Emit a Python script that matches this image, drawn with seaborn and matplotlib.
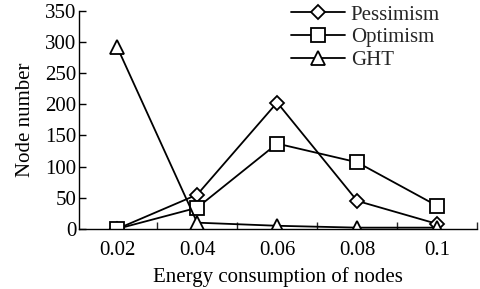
import numpy as np
import pandas as pd
import matplotlib
matplotlib.use('Agg')
import matplotlib.pyplot as plt
import seaborn as sns
from matplotlib.ticker import MultipleLocator

# 数据
energy = [0.02, 0.04, 0.06, 0.08, 0.1]
pessimism = [0, 55, 203, 45, 8]
optimism = [0, 34, 137, 107, 37]
ght = [292, 10, 5, 2, 2]

series_names = ['Pessimism', 'Optimism', 'GHT']
series_values = [pessimism, optimism, ght]
markers = ['D', 's', '^']
marker_sizes = [7.5, 10, 10]

sns.set_theme(style='ticks')
plt.rcParams['font.family'] = ['Liberation Serif', 'DejaVu Serif']
plt.rcParams['font.size'] = 15

fig, ax = plt.subplots(figsize=(4.8, 2.89), dpi=100)
fig.subplots_adjust(left=0.165, right=0.994, top=0.962, bottom=0.208)

for name, vals, m, ms in zip(series_names, series_values, markers, marker_sizes):
    df = pd.DataFrame({'x': energy, 'y': vals})
    sns.lineplot(data=df, x='x', y='y', ax=ax, color='black', linewidth=1.3,
                 marker=m, markersize=ms, markerfacecolor='white',
                 markeredgecolor='black', markeredgewidth=1.3, label=name)

ax.set_xlim(0.0105, 0.11)
ax.set_ylim(0, 350)
ax.set_xticks(energy)
ax.set_xticklabels(['0.02', '0.04', '0.06', '0.08', '0.1'])
ax.xaxis.set_minor_locator(MultipleLocator(0.01))
ax.set_yticks(np.arange(0, 351, 50))
ax.tick_params(axis='both', direction='in', length=5, width=1, labelsize=15,
               colors='black', pad=2)
ax.tick_params(axis='x', which='major', pad=9)
ax.tick_params(axis='x', which='minor', direction='in', length=5, width=1)
ax.set_xlabel('Energy consumption of nodes', fontsize=15, color='black', labelpad=5)
ax.set_ylabel('Node number', fontsize=15, color='black', labelpad=7)
for s in ['top', 'right']:
    ax.spines[s].set_visible(False)
for s in ['left', 'bottom']:
    ax.spines[s].set_color('black')
    ax.spines[s].set_linewidth(1)

ax.legend(loc='upper left', frameon=False, fontsize=15, handlelength=2.6,
          handletextpad=0.25, labelspacing=0.15, borderaxespad=0.0, borderpad=0.0,
          bbox_to_anchor=(0.533, 1.027))

plt.savefig('out.png', dpi=100)
